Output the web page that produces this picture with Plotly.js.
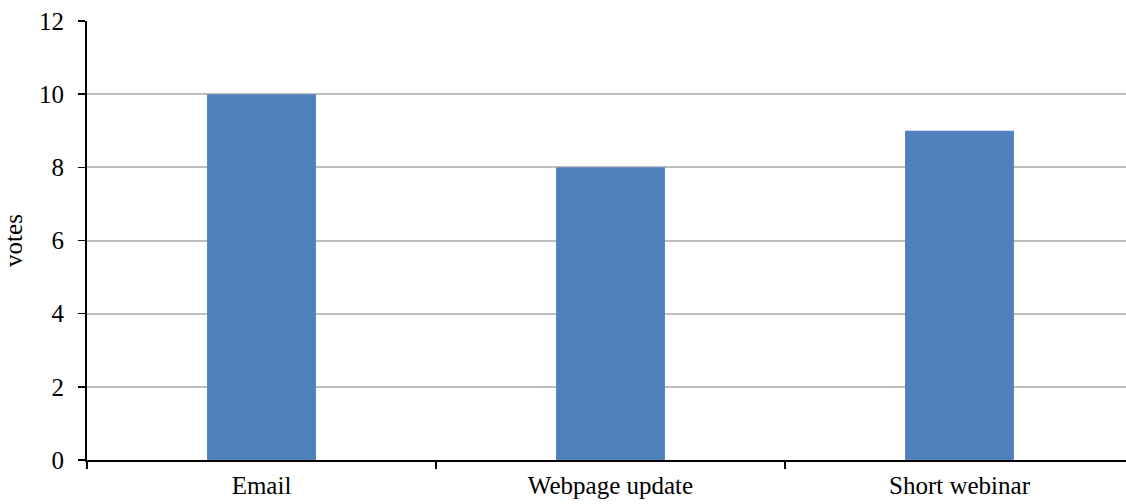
<!DOCTYPE html>
<html>
<head>
<meta charset="utf-8">
<script src="https://cdn.plot.ly/plotly-3.0.1.min.js"></script>
<style>
html,body{margin:0;padding:0;overflow:hidden;background:#fff;}
#chart{width:1136px;height:504px;}
</style>
</head>
<body>
<div id="chart"></div>
<script>
const categories = ["Email", "Webpage update", "Short webinar"];
const votes = [10, 8, 9];
const yTicks = [0, 2, 4, 6, 8, 10, 12];
const yTitle = "votes";

const FONT = "'Palatino Linotype', 'Book Antiqua', Palatino, 'Liberation Serif', serif";

const trace = {
  type: "bar",
  x: categories,
  y: votes,
  marker: {color: "#4f81bd", line: {width: 0}},
  hoverinfo: "none"
};

const layout = {
  width: 1136,
  height: 504,
  margin: {l: 87, r: 2, t: 21, b: 44},
  paper_bgcolor: "#ffffff",
  plot_bgcolor: "#ffffff",
  showlegend: false,
  bargap: 0.688,
  font: {family: FONT, size: 25, color: "#000000"},
  xaxis: {
    type: "category",
    showline: true,
    linecolor: "#000000",
    linewidth: 2,
    ticks: "outside",
    tickson: "boundaries",
    ticklen: 7,
    tickwidth: 1.5,
    tickcolor: "#000000",
    showgrid: false,
    zeroline: false,
    tickfont: {family: FONT, size: 25, color: "#000000"},
    ticklabelstandoff: 2
  },
  yaxis: {
    range: [0, 12],
    tickvals: yTicks,
    ticktext: yTicks.map(String),
    showline: true,
    linecolor: "#000000",
    linewidth: 2,
    ticks: "outside",
    ticklen: 7,
    tickwidth: 1.5,
    tickcolor: "#000000",
    showgrid: true,
    gridcolor: "#bfbfbf",
    gridwidth: 2,
    zeroline: false,
    tickfont: {family: FONT, size: 25, color: "#000000"},
    ticklabelstandoff: 9,
    title: {text: yTitle, font: {family: FONT, size: 25, color: "#000000"}, standoff: 10}
  }
};

Plotly.newPlot("chart", [trace], layout, {staticPlot: true, displayModeBar: false});
</script>
</body>
</html>
